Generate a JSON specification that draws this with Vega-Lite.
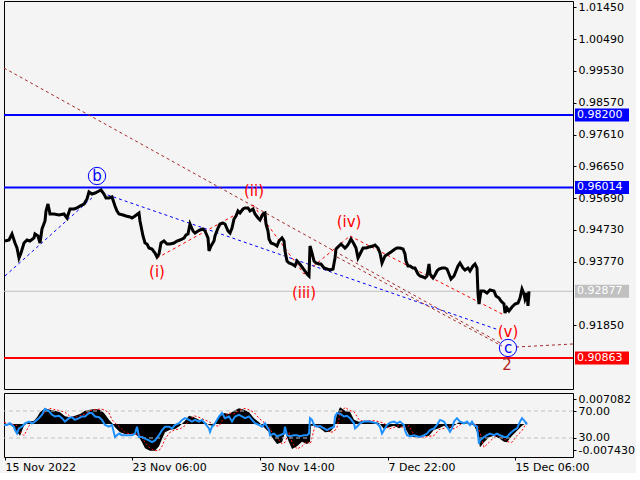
{
  "$schema": "https://vega.github.io/schema/vega-lite/v6.json",
  "background": "#f4f4f4",
  "padding": {"left": 2, "top": 0, "right": 0, "bottom": 0},
  "spacing": 4,
  "bounds": "flush",
  "config": {
    "view": {"stroke": "#000000", "strokeWidth": 1},
    "font": "DejaVu Sans",
    "text": {"font": "DejaVu Sans"},
    "axis": {"labelFont": "DejaVu Sans", "labelFontSize": 11, "labelColor": "#000000", "tickColor": "#000000", "domain": false, "grid": false, "labelPadding": 2, "tickSize": 3}
  },
  "datasets": {
    "price": [
      {"t":0,"p":0.94396},{"t":4,"p":0.94426},{"t":7,"p":0.94607},{"t":10,"p":0.94335},{"t":12,"p":0.94184},{"t":14,"p":0.93882},{"t":16,"p":0.94033},{"t":19,"p":0.94335},{"t":22,"p":0.94426},{"t":25,"p":0.94396},{"t":29,"p":0.94487},{"t":30,"p":0.94607},{"t":33,"p":0.94547},{"t":35,"p":0.94335},{"t":37,"p":0.94758},{"t":40,"p":0.95000},{"t":41,"p":0.95301},{"t":43,"p":0.95513},{"t":45,"p":0.95211},{"t":49,"p":0.95211},{"t":54,"p":0.95181},{"t":59,"p":0.95211},{"t":62,"p":0.95090},{"t":65,"p":0.95362},{"t":69,"p":0.95362},{"t":72,"p":0.95392},{"t":75,"p":0.95452},{"t":79,"p":0.95513},{"t":82,"p":0.95664},{"t":84,"p":0.95875},{"t":87,"p":0.95815},{"t":90,"p":0.95845},{"t":94,"p":0.95905},{"t":96,"p":0.95936},{"t":99,"p":0.95815},{"t":101,"p":0.95694},{"t":104,"p":0.95694},{"t":107,"p":0.95724},{"t":110,"p":0.95452},{"t":112,"p":0.95301},{"t":114,"p":0.95211},{"t":118,"p":0.95181},{"t":121,"p":0.95150},{"t":125,"p":0.95120},{"t":127,"p":0.95090},{"t":130,"p":0.95150},{"t":134,"p":0.95241},{"t":135,"p":0.95000},{"t":138,"p":0.94547},{"t":140,"p":0.94335},{"t":142,"p":0.94305},{"t":144,"p":0.94184},{"t":147,"p":0.94154},{"t":150,"p":0.94033},{"t":152,"p":0.93913},{"t":154,"p":0.94003},{"t":156,"p":0.94335},{"t":159,"p":0.94396},{"t":162,"p":0.94305},{"t":165,"p":0.94305},{"t":169,"p":0.94335},{"t":172,"p":0.94396},{"t":175,"p":0.94426},{"t":179,"p":0.94487},{"t":181,"p":0.94577},{"t":183,"p":0.94607},{"t":185,"p":0.94909},{"t":188,"p":0.94698},{"t":190,"p":0.94637},{"t":193,"p":0.94698},{"t":195,"p":0.94728},{"t":198,"p":0.94758},{"t":200,"p":0.94698},{"t":203,"p":0.94487},{"t":204,"p":0.94094},{"t":206,"p":0.94245},{"t":209,"p":0.94396},{"t":210,"p":0.94547},{"t":213,"p":0.94788},{"t":215,"p":0.94909},{"t":218,"p":0.94939},{"t":220,"p":0.94909},{"t":223,"p":0.94698},{"t":225,"p":0.94637},{"t":227,"p":0.94788},{"t":229,"p":0.95060},{"t":231,"p":0.95150},{"t":233,"p":0.95301},{"t":235,"p":0.95241},{"t":238,"p":0.95362},{"t":240,"p":0.95392},{"t":243,"p":0.95392},{"t":245,"p":0.95301},{"t":248,"p":0.95362},{"t":250,"p":0.95211},{"t":253,"p":0.95090},{"t":255,"p":0.95030},{"t":258,"p":0.95211},{"t":260,"p":0.95241},{"t":261,"p":0.94909},{"t":263,"p":0.94698},{"t":264,"p":0.94456},{"t":266,"p":0.94335},{"t":269,"p":0.94305},{"t":272,"p":0.94245},{"t":274,"p":0.94396},{"t":277,"p":0.94487},{"t":279,"p":0.94396},{"t":280,"p":0.94094},{"t":282,"p":0.93792},{"t":284,"p":0.93731},{"t":287,"p":0.93701},{"t":290,"p":0.93641},{"t":292,"p":0.93792},{"t":294,"p":0.93731},{"t":297,"p":0.93611},{"t":300,"p":0.93490},{"t":302,"p":0.93399},{"t":304,"p":0.93339},{"t":305,"p":0.94245},{"t":307,"p":0.94033},{"t":309,"p":0.93792},{"t":311,"p":0.93731},{"t":314,"p":0.93701},{"t":316,"p":0.93701},{"t":319,"p":0.93580},{"t":322,"p":0.93550},{"t":325,"p":0.93520},{"t":328,"p":0.93550},{"t":330,"p":0.93882},{"t":331,"p":0.94154},{"t":334,"p":0.94245},{"t":336,"p":0.94305},{"t":340,"p":0.94184},{"t":342,"p":0.94245},{"t":344,"p":0.94335},{"t":346,"p":0.94456},{"t":349,"p":0.94305},{"t":351,"p":0.94184},{"t":353,"p":0.93882},{"t":355,"p":0.94003},{"t":358,"p":0.94184},{"t":361,"p":0.94184},{"t":364,"p":0.94215},{"t":368,"p":0.94245},{"t":370,"p":0.94275},{"t":373,"p":0.94184},{"t":375,"p":0.94033},{"t":377,"p":0.93731},{"t":380,"p":0.93943},{"t":383,"p":0.94003},{"t":386,"p":0.94064},{"t":390,"p":0.94154},{"t":392,"p":0.94184},{"t":395,"p":0.94184},{"t":398,"p":0.94154},{"t":400,"p":0.94003},{"t":401,"p":0.93792},{"t":403,"p":0.93641},{"t":405,"p":0.93641},{"t":408,"p":0.93580},{"t":410,"p":0.93580},{"t":413,"p":0.93399},{"t":415,"p":0.93339},{"t":418,"p":0.93309},{"t":420,"p":0.93279},{"t":422,"p":0.93339},{"t":424,"p":0.93701},{"t":425,"p":0.93399},{"t":428,"p":0.93279},{"t":430,"p":0.93369},{"t":432,"p":0.93490},{"t":434,"p":0.93550},{"t":437,"p":0.93580},{"t":440,"p":0.93580},{"t":442,"p":0.93550},{"t":444,"p":0.93399},{"t":446,"p":0.93248},{"t":449,"p":0.93339},{"t":451,"p":0.93490},{"t":453,"p":0.93641},{"t":455,"p":0.93731},{"t":458,"p":0.93580},{"t":460,"p":0.93520},{"t":463,"p":0.93580},{"t":465,"p":0.93490},{"t":468,"p":0.93641},{"t":470,"p":0.93701},{"t":472,"p":0.93580},{"t":473,"p":0.92795},{"t":474,"p":0.92494},{"t":476,"p":0.92886},{"t":479,"p":0.92886},{"t":482,"p":0.92826},{"t":485,"p":0.92916},{"t":489,"p":0.92886},{"t":491,"p":0.92735},{"t":494,"p":0.92675},{"t":496,"p":0.92584},{"t":499,"p":0.92494},{"t":500,"p":0.92222},{"t":502,"p":0.92373},{"t":504,"p":0.92282},{"t":507,"p":0.92403},{"t":510,"p":0.92494},{"t":513,"p":0.92524},{"t":515,"p":0.92675},{"t":517,"p":0.92946},{"t":519,"p":0.92795},{"t":520,"p":0.92644},{"t":522,"p":0.92826},{"t":523,"p":0.92433},{"t":524,"p":0.92877}
    ],
    "levels": [
      {"p":0.98200,"kind":"res","label":"0.98200"},
      {"p":0.96014,"kind":"res","label":"0.96014"},
      {"p":0.92877,"kind":"cur","label":"0.92877"},
      {"p":0.90863,"kind":"sup","label":"0.90863"}
    ],
    "segs": [
      {"id":"B1","style":"blue","t":0,"p":0.93339},{"id":"B1","style":"blue","t":89,"p":0.95754},
      {"id":"B2","style":"blue","t":97,"p":0.95845},{"id":"B2","style":"blue","t":494,"p":0.91708},
      {"id":"R1","style":"brown","t":-1,"p":0.99619},{"id":"R1","style":"brown","t":497,"p":0.91286},
      {"id":"R2","style":"brown","t":332,"p":0.93913},{"id":"R2","style":"brown","t":497,"p":0.91225},
      {"id":"R3","style":"brown","t":511,"p":0.91195},{"id":"R3","style":"brown","t":568,"p":0.91286},
      {"id":"D1","style":"red","t":152,"p":0.93882},{"id":"D1","style":"red","t":248,"p":0.95483},
      {"id":"D2","style":"red","t":248,"p":0.95483},{"id":"D2","style":"red","t":299,"p":0.93399},
      {"id":"D3","style":"red","t":299,"p":0.93399},{"id":"D3","style":"red","t":345,"p":0.94547},
      {"id":"D4","style":"red","t":345,"p":0.94547},{"id":"D4","style":"red","t":499,"p":0.92161}
    ],
    "waves": [
      {"lab":"b","deg":"major","t":92,"p":0.96358},
      {"lab":"(i)","deg":"minor","t":152,"p":0.93460},
      {"lab":"(ii)","deg":"minor","t":249,"p":0.95905},
      {"lab":"(iii)","deg":"minor","t":299,"p":0.92826},
      {"lab":"(iv)","deg":"minor","t":344,"p":0.94969},
      {"lab":"(v)","deg":"minor","t":503,"p":0.91648},
      {"lab":"c","deg":"major","t":503,"p":0.91165},
      {"lab":"2","deg":"primary","t":502,"p":0.90652}
    ],
    "macd": [
      {"t":-1,"m":0.00028,"s":0.0005},{"t":2,"m":0,"s":0.00028},{"t":7,"m":-0.00047,"s":0},{"t":12,"m":-0.00217,"s":-0.00047},{"t":15,"m":-0.0033,"s":-0.00217},{"t":19,"m":-0.00047,"s":-0.0033},{"t":24,"m":0.00066,"s":-0.00047},{"t":29,"m":0.00094,"s":0.00066},{"t":32,"m":0.00189,"s":0.00094},{"t":35,"m":0.0033,"s":0.00189},{"t":40,"m":0.00444,"s":0.0033},{"t":45,"m":0.00406,"s":0.00444},{"t":50,"m":0.00378,"s":0.00406},{"t":55,"m":0.0033,"s":0.00378},{"t":60,"m":0.00217,"s":0.0033},{"t":65,"m":0.00189,"s":0.00217},{"t":70,"m":0.00236,"s":0.00189},{"t":75,"m":0.00283,"s":0.00236},{"t":80,"m":0.00378,"s":0.00283},{"t":85,"m":0.00406,"s":0.00378},{"t":90,"m":0.00425,"s":0.00406},{"t":95,"m":0.00406,"s":0.00425},{"t":99,"m":0.00312,"s":0.00406},{"t":104,"m":0.00123,"s":0.00312},{"t":107,"m":0.00028,"s":0.00123},{"t":110,"m":-0.00094,"s":0.00028},{"t":115,"m":-0.00236,"s":-0.00094},{"t":120,"m":-0.00283,"s":-0.00236},{"t":125,"m":-0.00283,"s":-0.00283},{"t":130,"m":-0.00283,"s":-0.00283},{"t":134,"m":-0.00378,"s":-0.00283},{"t":137,"m":-0.00519,"s":-0.00378},{"t":140,"m":-0.00689,"s":-0.00519},{"t":145,"m":-0.00755,"s":-0.00689},{"t":150,"m":-0.00755,"s":-0.00755},{"t":154,"m":-0.00632,"s":-0.00755},{"t":157,"m":-0.00425,"s":-0.00632},{"t":160,"m":-0.00236,"s":-0.00425},{"t":165,"m":-0.0016,"s":-0.00236},{"t":170,"m":-0.00142,"s":-0.0016},{"t":175,"m":-0.00047,"s":-0.00142},{"t":180,"m":0.00094,"s":-0.00047},{"t":184,"m":0.00236,"s":0.00094},{"t":189,"m":0.00189,"s":0.00236},{"t":194,"m":0.00123,"s":0.00189},{"t":199,"m":0.00066,"s":0.00123},{"t":204,"m":-0.00028,"s":0.00066},{"t":209,"m":-0.00066,"s":-0.00028},{"t":214,"m":0.00189,"s":-0.00066},{"t":219,"m":0.00312,"s":0.00189},{"t":224,"m":0.00283,"s":0.00312},{"t":229,"m":0.00378,"s":0.00283},{"t":234,"m":0.00444,"s":0.00378},{"t":239,"m":0.00406,"s":0.00444},{"t":244,"m":0.0033,"s":0.00406},{"t":249,"m":0.0016,"s":0.0033},{"t":254,"m":0.00047,"s":0.0016},{"t":259,"m":-0.00094,"s":0.00047},{"t":264,"m":-0.00236,"s":-0.00094},{"t":267,"m":-0.00378,"s":-0.00236},{"t":272,"m":-0.00566,"s":-0.00378},{"t":277,"m":-0.00519,"s":-0.00566},{"t":280,"m":-0.00236,"s":-0.00519},{"t":284,"m":-0.00519,"s":-0.00236},{"t":287,"m":-0.00708,"s":-0.00519},{"t":292,"m":-0.00632,"s":-0.00708},{"t":297,"m":-0.005,"s":-0.00632},{"t":302,"m":-0.00566,"s":-0.005},{"t":305,"m":-0.005,"s":-0.00566},{"t":306,"m":-0.00047,"s":-0.005},{"t":310,"m":-0.00047,"s":-0.00047},{"t":315,"m":-0.00123,"s":-0.00047},{"t":320,"m":-0.00236,"s":-0.00123},{"t":325,"m":-0.00217,"s":-0.00236},{"t":329,"m":-0.00094,"s":-0.00217},{"t":332,"m":0.00283,"s":-0.00094},{"t":335,"m":0.00472,"s":0.00283},{"t":340,"m":0.00378,"s":0.00472},{"t":345,"m":0.00349,"s":0.00378},{"t":349,"m":0.00123,"s":0.00349},{"t":354,"m":0.00066,"s":0.00123},{"t":359,"m":0.00094,"s":0.00066},{"t":364,"m":0.00094,"s":0.00094},{"t":369,"m":0.00066,"s":0.00094},{"t":374,"m":0.00028,"s":0.00066},{"t":379,"m":-0.00142,"s":0.00028},{"t":384,"m":-0.00094,"s":-0.00142},{"t":389,"m":-0.00047,"s":-0.00094},{"t":394,"m":-0.00123,"s":-0.00047},{"t":399,"m":-0.00047,"s":-0.00123},{"t":404,"m":-0.00312,"s":-0.00047},{"t":409,"m":-0.00378,"s":-0.00312},{"t":414,"m":-0.00378,"s":-0.00378},{"t":419,"m":-0.00349,"s":-0.00378},{"t":424,"m":-0.0033,"s":-0.00349},{"t":429,"m":-0.0016,"s":-0.0033},{"t":434,"m":-0.00123,"s":-0.0016},{"t":439,"m":-0.00047,"s":-0.00123},{"t":444,"m":-0.00142,"s":-0.00047},{"t":449,"m":-0.00047,"s":-0.00142},{"t":454,"m":0.00047,"s":-0.00047},{"t":459,"m":0.00028,"s":0.00047},{"t":464,"m":0,"s":0.00028},{"t":469,"m":-0.00028,"s":0},{"t":472,"m":-0.00236,"s":-0.00028},{"t":475,"m":-0.00661,"s":-0.00236},{"t":479,"m":-0.00519,"s":-0.00661},{"t":484,"m":-0.00378,"s":-0.00519},{"t":489,"m":-0.0033,"s":-0.00378},{"t":494,"m":-0.00406,"s":-0.0033},{"t":499,"m":-0.005,"s":-0.00406},{"t":502,"m":-0.00519,"s":-0.005},{"t":507,"m":-0.0033,"s":-0.00519},{"t":512,"m":-0.00189,"s":-0.0033},{"t":517,"m":-0.00047,"s":-0.00189},{"t":522,"m":0.00042,"s":0.00052}
    ],
    "rsi": [
      {"t":-1,"r":49.3},{"t":2,"r":49.3},{"t":5,"r":51.8},{"t":9,"r":46.7},{"t":10,"r":41.7},{"t":12,"r":36.6},{"t":14,"r":44.2},{"t":17,"r":46.7},{"t":20,"r":51.8},{"t":24,"r":54.3},{"t":27,"r":51.8},{"t":30,"r":54.3},{"t":34,"r":59.4},{"t":37,"r":64.4},{"t":40,"r":73.0},{"t":44,"r":69.5},{"t":47,"r":64.4},{"t":50,"r":61.9},{"t":54,"r":62.9},{"t":57,"r":59.4},{"t":60,"r":54.3},{"t":64,"r":59.4},{"t":67,"r":60.9},{"t":70,"r":56.8},{"t":74,"r":59.4},{"t":77,"r":61.9},{"t":80,"r":61.9},{"t":84,"r":67.0},{"t":87,"r":67.0},{"t":90,"r":61.9},{"t":94,"r":60.9},{"t":97,"r":56.8},{"t":100,"r":49.3},{"t":104,"r":46.7},{"t":107,"r":49.3},{"t":110,"r":31.5},{"t":114,"r":36.6},{"t":117,"r":34.1},{"t":120,"r":34.1},{"t":124,"r":34.1},{"t":127,"r":34.1},{"t":130,"r":36.6},{"t":132,"r":46.7},{"t":134,"r":31.5},{"t":137,"r":31.5},{"t":140,"r":29.0},{"t":144,"r":26.5},{"t":147,"r":24.0},{"t":150,"r":26.5},{"t":154,"r":34.1},{"t":157,"r":41.7},{"t":160,"r":46.7},{"t":164,"r":46.7},{"t":167,"r":44.2},{"t":170,"r":49.3},{"t":174,"r":51.8},{"t":177,"r":56.8},{"t":180,"r":59.4},{"t":184,"r":56.8},{"t":187,"r":54.3},{"t":190,"r":56.8},{"t":194,"r":54.3},{"t":197,"r":56.8},{"t":200,"r":51.8},{"t":204,"r":44.2},{"t":205,"r":39.1},{"t":207,"r":46.7},{"t":210,"r":51.8},{"t":214,"r":61.9},{"t":217,"r":67.0},{"t":220,"r":59.4},{"t":224,"r":61.9},{"t":227,"r":54.3},{"t":230,"r":61.9},{"t":234,"r":64.4},{"t":237,"r":61.9},{"t":240,"r":59.4},{"t":244,"r":61.9},{"t":247,"r":56.8},{"t":250,"r":51.8},{"t":254,"r":49.3},{"t":257,"r":46.7},{"t":260,"r":51.8},{"t":264,"r":41.7},{"t":265,"r":34.1},{"t":269,"r":36.6},{"t":272,"r":32.6},{"t":275,"r":34.1},{"t":279,"r":36.6},{"t":280,"r":46.7},{"t":282,"r":34.1},{"t":285,"r":32.6},{"t":289,"r":34.1},{"t":292,"r":34.1},{"t":295,"r":32.6},{"t":299,"r":34.1},{"t":302,"r":34.1},{"t":304,"r":36.6},{"t":305,"r":59.4},{"t":307,"r":56.8},{"t":309,"r":49.3},{"t":312,"r":46.7},{"t":315,"r":47.7},{"t":319,"r":44.2},{"t":322,"r":41.7},{"t":325,"r":44.2},{"t":329,"r":46.7},{"t":330,"r":61.9},{"t":332,"r":67.0},{"t":335,"r":66.0},{"t":339,"r":61.9},{"t":342,"r":62.9},{"t":345,"r":59.4},{"t":349,"r":51.8},{"t":350,"r":44.2},{"t":352,"r":46.7},{"t":355,"r":51.8},{"t":359,"r":54.3},{"t":362,"r":54.3},{"t":365,"r":54.3},{"t":369,"r":52.8},{"t":372,"r":51.8},{"t":375,"r":46.7},{"t":377,"r":36.6},{"t":379,"r":41.7},{"t":382,"r":49.3},{"t":385,"r":52.8},{"t":389,"r":54.3},{"t":392,"r":51.8},{"t":395,"r":54.3},{"t":399,"r":49.3},{"t":400,"r":41.7},{"t":402,"r":34.1},{"t":405,"r":32.6},{"t":409,"r":34.1},{"t":412,"r":32.6},{"t":415,"r":31.5},{"t":419,"r":34.1},{"t":422,"r":36.6},{"t":425,"r":41.7},{"t":429,"r":44.2},{"t":432,"r":49.3},{"t":435,"r":56.8},{"t":439,"r":54.3},{"t":442,"r":46.7},{"t":444,"r":41.7},{"t":445,"r":39.1},{"t":447,"r":44.2},{"t":449,"r":54.3},{"t":452,"r":59.4},{"t":455,"r":54.3},{"t":459,"r":51.8},{"t":462,"r":54.3},{"t":465,"r":49.3},{"t":467,"r":54.3},{"t":469,"r":49.3},{"t":472,"r":46.7},{"t":474,"r":21.4},{"t":475,"r":26.5},{"t":479,"r":31.5},{"t":482,"r":34.1},{"t":485,"r":36.6},{"t":489,"r":34.1},{"t":492,"r":36.6},{"t":495,"r":34.1},{"t":499,"r":31.5},{"t":502,"r":31.5},{"t":505,"r":36.6},{"t":509,"r":41.7},{"t":512,"r":44.2},{"t":515,"r":54.3},{"t":517,"r":59.4},{"t":520,"r":54.3},{"t":522,"r":50.0}
    ],
    "rsilev": [{"v":70},{"v":30}]
  },
  "vconcat": [
    {
      "width": 569,
      "height": 388,
      "resolve": {"scale": {"color": "independent"}},
      "layer": [
        {
          "data": {"name": "levels"},
          "transform": [{"filter": "datum.kind != 'cur'"}],
          "mark": {"type": "rule", "strokeWidth": 2},
          "encoding": {
            "y": {"field": "p", "type": "quantitative", "title": null, "scale": {"domain": [0.89927, 1.01642], "nice": false, "zero": false}},
            "color": {"field": "kind", "type": "nominal", "scale": {"domain": ["res", "cur", "sup"], "range": ["#0000ff", "#c0c0c0", "#ff0000"]}, "legend": null}
          }
        },
        {
          "data": {"name": "levels"},
          "transform": [{"filter": "datum.kind == 'cur'"}],
          "mark": {"type": "rule", "strokeWidth": 1, "color": "#c0c0c0"},
          "encoding": {
            "y": {"field": "p", "type": "quantitative", "title": null, "scale": {"domain": [0.89927, 1.01642], "nice": false, "zero": false}}
          }
        },
        {
          "data": {"name": "segs"},
          "mark": {"type": "line", "strokeWidth": 1, "strokeDash": [3, 3], "clip": true},
          "encoding": {
            "x": {"field": "t", "type": "quantitative", "title": null, "scale": {"domain": [-1, 568], "nice": false, "zero": false}, "axis": null},
            "y": {"field": "p", "type": "quantitative", "title": null, "scale": {"domain": [0.89927, 1.01642], "nice": false, "zero": false}},
            "detail": {"field": "id", "type": "nominal"},
            "color": {"field": "style", "type": "nominal", "scale": {"domain": ["blue", "brown", "red"], "range": ["#0000ff", "#a52a2a", "#ff0000"]}, "legend": null}
          }
        },
        {
          "data": {"name": "price"},
          "mark": {"type": "line", "color": "#000000", "strokeWidth": 3, "clip": true},
          "encoding": {
            "x": {"field": "t", "type": "quantitative", "title": null, "scale": {"domain": [-1, 568], "nice": false, "zero": false}, "axis": null},
            "y": {"field": "p", "type": "quantitative", "title": null, "scale": {"domain": [0.89927, 1.01642], "nice": false, "zero": false},
              "axis": {"orient": "right", "title": null, "values": [1.0145, 1.0049, 0.9953, 0.9857, 0.9761, 0.9665, 0.9569, 0.9473, 0.9377, 0.9185], "format": ".5f", "labelOverlap": false, "labelBound": false, "tickSize": 3, "labelPadding": 2, "domain": false, "grid": false}}
          }
        },
        {
          "data": {"name": "levels"},
          "mark": {"type": "rule", "strokeWidth": 13, "strokeCap": "butt"},
          "encoding": {
            "x": {"datum": 570, "type": "quantitative", "scale": {"domain": [-1, 568], "nice": false, "zero": false}, "axis": null},
            "x2": {"datum": 624},
            "y": {"field": "p", "type": "quantitative", "title": null, "scale": {"domain": [0.89927, 1.01642], "nice": false, "zero": false}},
            "color": {"field": "kind", "type": "nominal", "scale": {"domain": ["res", "cur", "sup"], "range": ["#0000ff", "#c0c0c0", "#ff0000"]}, "legend": null}
          }
        },
        {
          "data": {"name": "levels"},
          "mark": {"type": "text", "align": "left", "baseline": "middle", "fontSize": 11, "color": "#ffffff"},
          "encoding": {
            "x": {"datum": 572, "type": "quantitative", "scale": {"domain": [-1, 568], "nice": false, "zero": false}, "axis": null},
            "y": {"field": "p", "type": "quantitative", "title": null, "scale": {"domain": [0.89927, 1.01642], "nice": false, "zero": false}},
            "text": {"field": "label", "type": "nominal"}
          }
        },
        {
          "data": {"name": "waves"},
          "mark": {"type": "text", "align": "center", "baseline": "middle", "fontSize": 15},
          "encoding": {
            "x": {"field": "t", "type": "quantitative", "title": null, "scale": {"domain": [-1, 568], "nice": false, "zero": false}, "axis": null},
            "y": {"field": "p", "type": "quantitative", "title": null, "scale": {"domain": [0.89927, 1.01642], "nice": false, "zero": false}},
            "text": {"field": "lab", "type": "nominal"},
            "color": {"field": "deg", "type": "nominal", "scale": {"domain": ["major", "minor", "primary"], "range": ["#0000ff", "#ff0000", "#b22222"]}, "legend": null}
          }
        },
        {
          "data": {"name": "waves"},
          "transform": [{"filter": "datum.deg == 'major'"}],
          "mark": {"type": "point", "shape": "circle", "size": 300, "filled": false, "stroke": "#0000ff", "strokeWidth": 1, "opacity": 1},
          "encoding": {
            "x": {"field": "t", "type": "quantitative", "title": null, "scale": {"domain": [-1, 568], "nice": false, "zero": false}, "axis": null},
            "y": {"field": "p", "type": "quantitative", "title": null, "scale": {"domain": [0.89927, 1.01642], "nice": false, "zero": false}}
          }
        },
        {
          "mark": {"type": "text", "align": "left", "baseline": "middle", "fontSize": 11, "color": "#000000", "text": "USDCHF, H1:  US Dollar vs Swiss Franc"},
          "encoding": {
            "x": {"datum": 2, "type": "quantitative", "scale": {"domain": [-1, 568], "nice": false, "zero": false}, "axis": null},
            "y": {"datum": 1.0134, "type": "quantitative", "scale": {"domain": [0.89927, 1.01642], "nice": false, "zero": false}}
          }
        }
      ]
    },
    {
      "width": 569,
      "height": 64,
      "resolve": {"scale": {"y": "independent"}, "axis": {"y": "independent"}},
      "layer": [
        {
          "layer": [
            {
              "data": {"name": "macd"},
              "mark": {"type": "area", "color": "#000000", "clip": true},
              "encoding": {
                "x": {"field": "t", "type": "quantitative", "title": null, "scale": {"domain": [-1, 568], "nice": false, "zero": false},
                  "axis": {"orient": "bottom", "title": null, "values": [0, 127, 255, 383, 510], "labelExpr": "datum.value == 0 ? '15 Nov 2022' : datum.value == 127 ? '23 Nov 06:00' : datum.value == 255 ? '30 Nov 14:00' : datum.value == 383 ? '7 Dec 22:00' : '15 Dec 06:00'", "labelAlign": "left", "labelBaseline": "top", "labelPadding": 1, "tickSize": 3, "labelOverlap": false, "labelBound": false, "labelFlush": false, "domain": false, "grid": false}},
                "y": {"field": "m", "type": "quantitative", "title": null, "scale": {"domain": [-0.00935, 0.00878], "nice": false, "zero": false}, "axis": null},
                "y2": {"datum": 0}
              }
            },
            {
              "data": {"name": "macd"},
              "mark": {"type": "line", "color": "#ff0000", "strokeWidth": 1, "strokeDash": [2, 2], "clip": true},
              "encoding": {
                "x": {"field": "t", "type": "quantitative", "title": null, "scale": {"domain": [-1, 568], "nice": false, "zero": false}},
                "y": {"field": "s", "type": "quantitative", "title": null, "scale": {"domain": [-0.00935, 0.00878], "nice": false, "zero": false}, "axis": null}
              }
            }
          ]
        },
        {
          "layer": [
            {
              "data": {"name": "rsilev"},
              "mark": {"type": "rule", "color": "#c0c0c0", "strokeWidth": 1, "strokeDash": [4, 3]},
              "encoding": {
                "y": {"field": "v", "type": "quantitative", "title": null, "scale": {"domain": [1.85, 96.67], "nice": false, "zero": false},
                  "axis": {"orient": "right", "title": null, "values": [87.78, 70, 30, 12.22], "labelExpr": "datum.value > 80 ? '0.007082' : datum.value > 50 ? '70.00' : datum.value > 20 ? '30.00' : '-0.007430'", "labelOverlap": false, "labelBound": false, "tickSize": 3, "labelPadding": 2, "domain": false, "grid": false}}
              }
            },
            {
              "data": {"name": "rsi"},
              "mark": {"type": "line", "color": "#1e90ff", "strokeWidth": 2, "clip": true},
              "encoding": {
                "x": {"field": "t", "type": "quantitative", "title": null, "scale": {"domain": [-1, 568], "nice": false, "zero": false}},
                "y": {"field": "r", "type": "quantitative", "title": null, "scale": {"domain": [1.85, 96.67], "nice": false, "zero": false},
                  "axis": {"orient": "right", "title": null, "values": [87.78, 70, 30, 12.22], "labelExpr": "datum.value > 80 ? '0.007082' : datum.value > 50 ? '70.00' : datum.value > 20 ? '30.00' : '-0.007430'", "labelOverlap": false, "labelBound": false, "tickSize": 3, "labelPadding": 2, "domain": false, "grid": false}}
              }
            },
            {
              "mark": {"type": "text", "align": "left", "baseline": "middle", "fontSize": 11, "color": "#000000", "text": "MACD(5,34,5) 0.000419 0.000522 RSI(14) 56.77"},
              "encoding": {
                "x": {"datum": 2, "type": "quantitative", "scale": {"domain": [-1, 568], "nice": false, "zero": false}},
                "y": {"datum": 80.37, "type": "quantitative", "scale": {"domain": [1.85, 96.67], "nice": false, "zero": false},
                  "axis": {"orient": "right", "title": null, "values": [87.78, 70, 30, 12.22], "labelExpr": "datum.value > 80 ? '0.007082' : datum.value > 50 ? '70.00' : datum.value > 20 ? '30.00' : '-0.007430'", "labelOverlap": false, "labelBound": false, "tickSize": 3, "labelPadding": 2, "domain": false, "grid": false}}
              }
            }
          ]
        }
      ]
    }
  ]
}
